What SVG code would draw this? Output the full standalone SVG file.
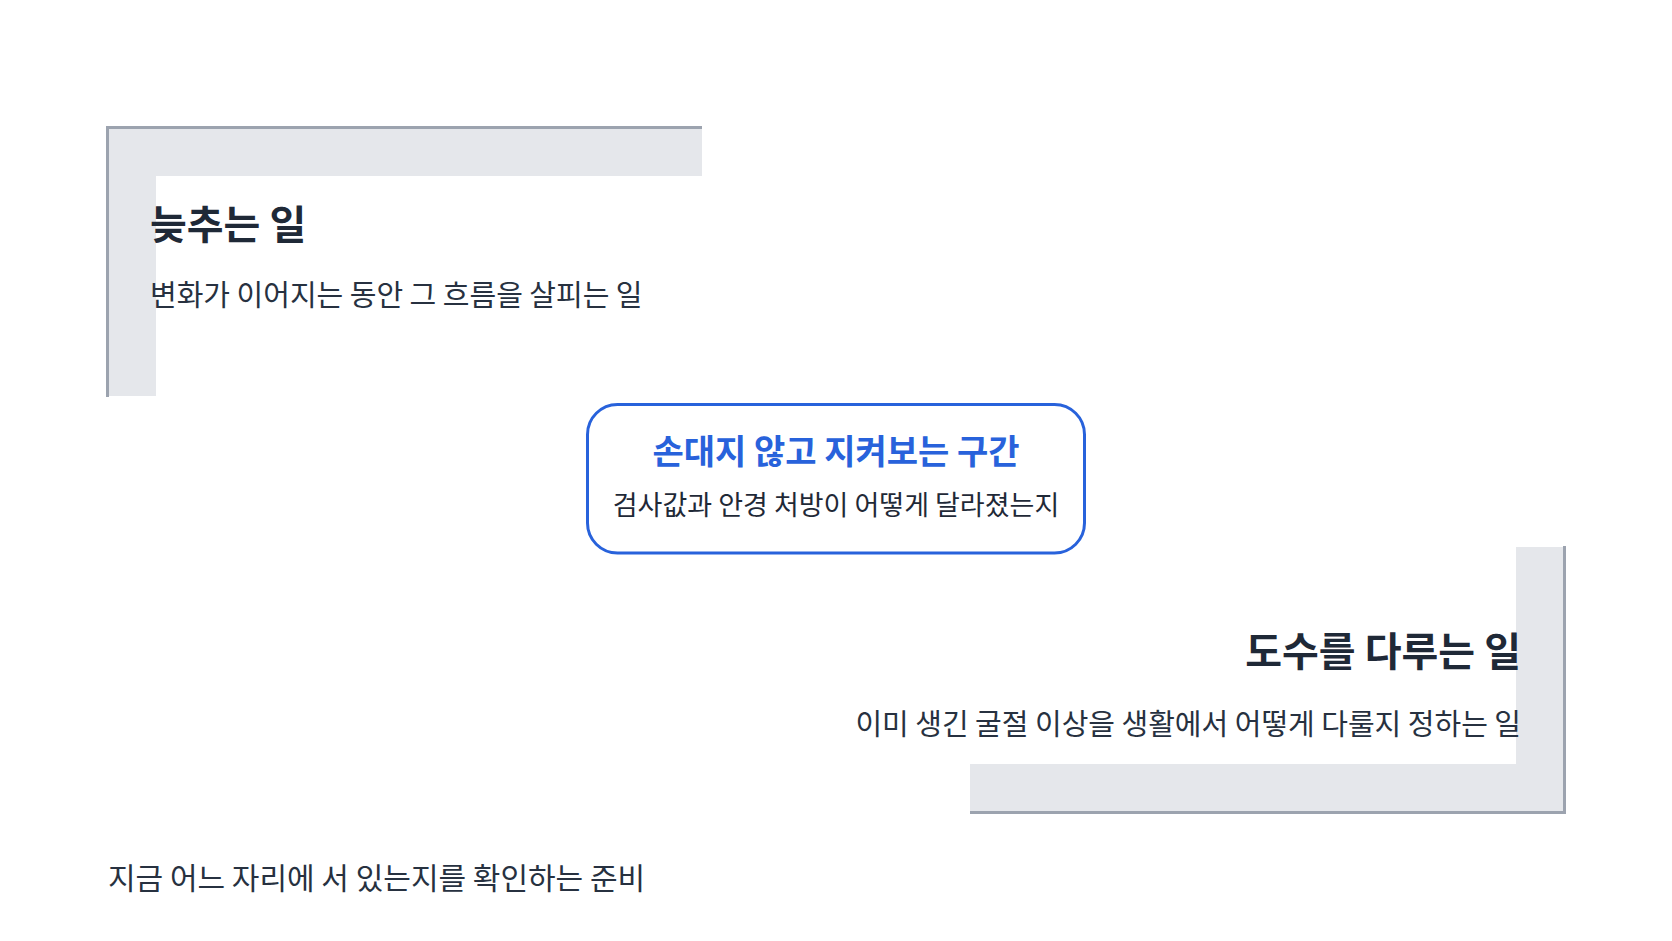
<svg xmlns="http://www.w3.org/2000/svg" width="1672" height="941" viewBox="0 0 1672 941">
<style>
text{font-family:"Noto Sans CJK KR","Noto Sans",sans-serif;}
.band{fill:#E5E7EB;}
.edge{fill:none;stroke:#9CA3AF;stroke-width:3;}
.title{font-size:40px;font-weight:700;fill:#1F2937;}
.sub{font-size:29px;font-weight:400;fill:#273140;}
.bottom{font-size:30px;}
.ctitle{font-size:34px;font-weight:700;fill:#2862DB;}
.csub{font-size:27px;font-weight:400;fill:#1F2937;}
.box{fill:#FFFFFF;stroke:#2862DB;stroke-width:3;}
</style>
<rect width="1672" height="941" fill="#FFFFFF"/>
<g id="connectors"></g>
<g id="node-delay">
<path class="band" d="M106 126 H702 V176 H156 V396 H106 Z"/>
<path class="edge" d="M107.5 397 V127.5 H702"/>
<text class="title" x="150" y="239">늦추는 일</text>
<text class="sub" x="150" y="306">변화가 이어지는 동안 그 흐름을 살피는 일</text>
</g>
<g id="node-watch">
<rect class="box" x="587.5" y="404.5" width="497" height="148.5" rx="30"/>
<text class="ctitle" x="836" y="464" text-anchor="middle">손대지 않고 지켜보는 구간</text>
<text class="csub" x="836" y="515" text-anchor="middle">검사값과 안경 처방이 어떻게 달라졌는지</text>
</g>
<g id="node-manage">
<path class="band" d="M1566 547 V814 H970 V764 H1516 V547 Z"/>
<path class="edge" d="M1564.5 546 V812.5 H970"/>
<text class="title" x="1521" y="666" text-anchor="end">도수를 다루는 일</text>
<text class="sub" x="1521" y="735" text-anchor="end">이미 생긴 굴절 이상을 생활에서 어떻게 다룰지 정하는 일</text>
</g>
<g id="node-prepare">
<text class="sub bottom" x="108" y="889">지금 어느 자리에 서 있는지를 확인하는 준비</text>
</g>
</svg>
